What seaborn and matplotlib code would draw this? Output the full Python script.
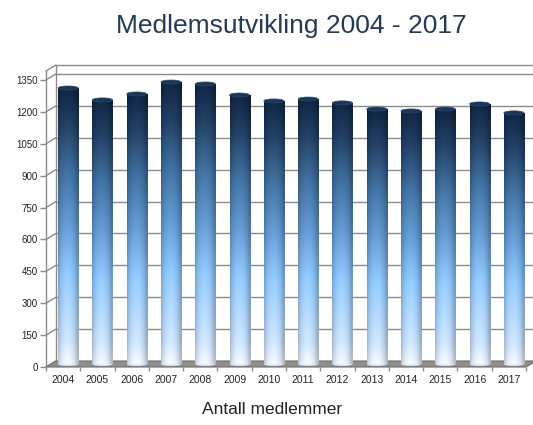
import numpy as np
import pandas as pd
import seaborn as sns
import matplotlib.pyplot as plt
import matplotlib.transforms as mtransforms
from matplotlib.patches import Polygon, Ellipse
from matplotlib.colors import LinearSegmentedColormap

# Data
years = ["2004", "2005", "2006", "2007", "2008", "2009", "2010",
         "2011", "2012", "2013", "2014", "2015", "2016", "2017"]
members = [1298, 1242, 1270, 1326, 1317, 1265, 1237,
           1246, 1228, 1199, 1190, 1199, 1223, 1181]
y_ticks = [0, 150, 300, 450, 600, 750, 900, 1050, 1200, 1350]

df = pd.DataFrame({"year": years, "members": members})

sns.set_theme(style="white")
plt.rcParams["font.family"] = ["Liberation Sans", "DejaVu Sans"]

fig = plt.figure(figsize=(5.33, 4.25), dpi=100)
W, H = 533, 425
ax = fig.add_axes([46 / W, (H - 367) / H, (526 - 46) / W, (367 - 71) / H])

sns.barplot(data=df, x="year", y="members", ax=ax, width=0.585,
            color="#3b6a9b", saturation=1)
ax.set_ylim(0, 1392)
ax.set_xlim(-0.5, len(years) - 0.5)

# 3d depth offsets (pixels)
DX, DY = 10, 6
back_y = mtransforms.offset_copy(ax.get_yaxis_transform(), fig=fig, x=DX, y=DY, units="dots")
mid_data = mtransforms.offset_copy(ax.transData, fig=fig, x=DX / 2, y=DY / 2, units="dots")

line_col = "#8a8a8a"

# back wall gridlines and outline
ax.hlines(y_ticks[1:], 0, 1.2, transform=back_y, color=line_col, lw=1.0, clip_on=False, zorder=0)
ax.hlines([1392], 0, 1.2, transform=back_y, color=line_col, lw=1.0, clip_on=False, zorder=0)
ax.vlines([0], 0, 1392, transform=back_y, color=line_col, lw=1.0, clip_on=False, zorder=0)

# left side wall diagonals
dxa = DX / (526 - 46)
dya = DY / 296
for t in y_ticks + [1392]:
    yv = ax.transData.transform((0, t))[1]
    yv = ax.transAxes.inverted().transform((0, yv))[1]
    ax.plot([0, dxa], [yv, yv + dya], transform=ax.transAxes, color=line_col,
            lw=1.0, clip_on=False, zorder=0)

# floor
floor = Polygon([(0, 0), (1, 0), (1 + dxa, dya), (dxa, dya)], closed=True,
                transform=ax.transAxes, facecolor="#8f8f8f", edgecolor="#6f6f6f",
                lw=0.8, clip_on=False, zorder=1)
ax.add_patch(floor)

# gradient cylinders
cmap = LinearSegmentedColormap.from_list(
    "bar", [(0.0, "#e8eef8"), (0.08, "#c5dcf6"), (0.32, "#8cc2f5"),
            (0.5, "#6196cc"), (0.68, "#40709f"), (0.86, "#213f63"), (1.0, "#102441")])
grad = cmap(np.linspace(0, 1, 256))[:, :3]
u = np.linspace(0, 1, 64)
shade = 0.8 + 0.26 * np.sin(np.pi * np.clip(u * 1.1, 0, 1)) ** 0.6
img = np.clip(grad[:, None, :] * shade[None, :, None], 0, 1)

ell_h = 4 / 0.2126
for p, v in zip(ax.patches[:len(years)], members):
    x0, w = p.get_x(), p.get_width()
    p.set_transform(mid_data)
    p.set_facecolor("none")
    p.set_edgecolor("none")
    p.set_zorder(3)
    base = Ellipse((x0 + w / 2, 0), w, ell_h, transform=mid_data,
                   facecolor="#dfe8f4", edgecolor="none", zorder=2.5)
    ax.add_patch(base)
    im = ax.imshow(img, extent=[x0, x0 + w, 0, v], origin="lower",
                   aspect="auto", zorder=3, interpolation="bilinear")
    im.set_transform(mid_data)
    im.set_clip_path(p)
    top = Ellipse((x0 + w / 2, v), w, ell_h, transform=mid_data,
                  facecolor="#1b3557", edgecolor="#2c4a70", lw=0.5, zorder=4)
    ax.add_patch(top)

# axes styling
for s in ["top", "right", "bottom"]:
    ax.spines[s].set_visible(False)
ax.spines["left"].set_color(line_col)
ax.spines["left"].set_linewidth(1.0)
ax.set_yticks(y_ticks)
ax.set_yticklabels([str(t) for t in y_ticks])
ax.tick_params(axis="y", length=4, width=1, color=line_col, labelsize=7, pad=2,
               labelcolor="#222222", left=True)
ax.set_xticks(range(len(years)))
ax.set_xticklabels(years)
ax.set_xticks(np.arange(-0.5, len(years), 1), minor=True)
ax.tick_params(axis="x", which="major", length=0, labelsize=7.5, pad=6, labelcolor="#222222")
ax.tick_params(axis="x", which="minor", length=3, width=1, color=line_col, bottom=True)
ax.set_xlabel("")
ax.set_ylabel("")
ax.grid(False)

fig.text(291 / W, 1 - 26 / H, "Medlemsutvikling 2004 - 2017", ha="center", va="center",
         fontsize=19, color="#243a55")
fig.text(272 / W, 1 - 409 / H, "Antall medlemmer", ha="center", va="center",
         fontsize=12.5, color="#222222")

fig.savefig("out.png", dpi=100)
